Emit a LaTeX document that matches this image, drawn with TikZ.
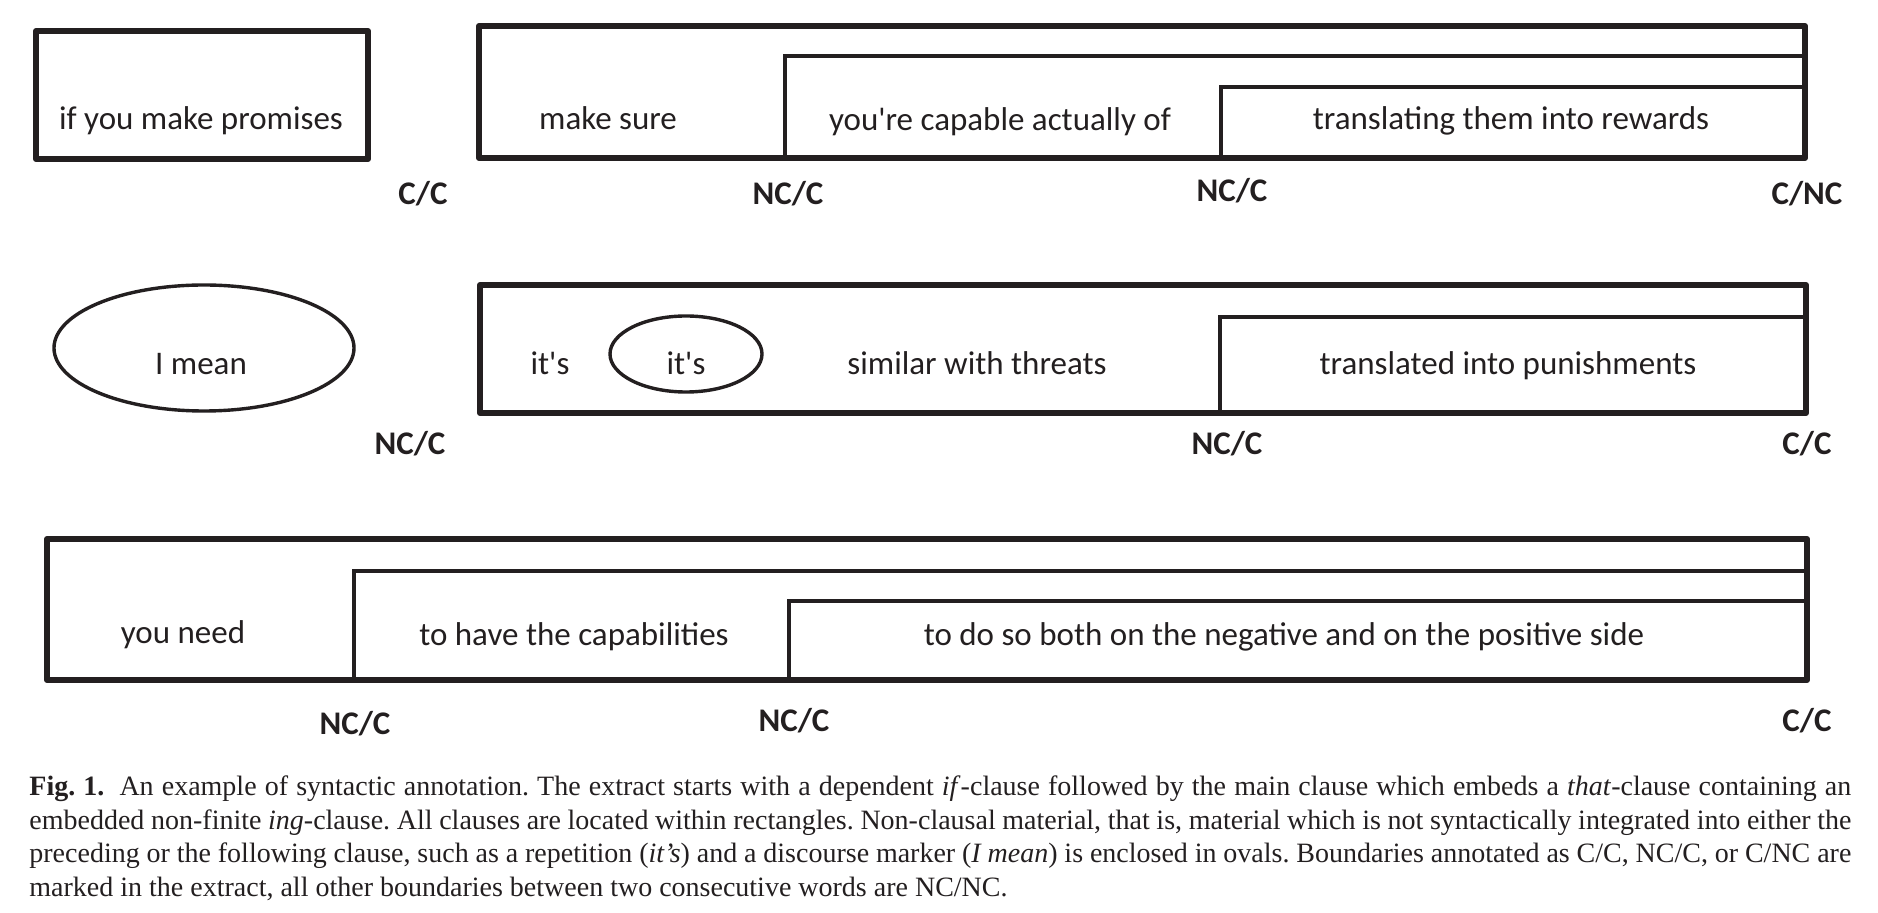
\documentclass[tikz,border=0pt]{standalone}
\usepackage{fontspec}
\setmainfont{Liberation Serif}
\newfontfamily\clausefont[Ligatures=TeXOff]{Carlito}
\usetikzlibrary{positioning}
\definecolor{ink}{HTML}{231F20}
\frenchspacing

\begin{document}
\begin{tikzpicture}[x=0.5pt, y=-0.5pt,
	outer/.style = {draw=ink, line width=3pt, line join=round},
	inner/.style = {draw=ink, line width=2pt},
	oval/.style  = {draw=ink, line width=1.7pt},
	words/.style = {font=\clausefont\fontsize{16.5}{20}\selectfont, text=ink, anchor=base, inner sep=0pt},
	bnd/.style   = {font=\clausefont\bfseries\fontsize{16.5}{20}\selectfont, text=ink, anchor=base, inner sep=0pt},
	capline/.style = {font=\fontsize{14}{17}\selectfont, text=ink, anchor=base west, inner sep=0pt}]
	
	\useasboundingbox (0,0) rectangle (1878,913);
	
	% first row: if-clause, then main clause with embedded clauses
	\draw[inner] (785,158) |- (1805,56);
	\draw[inner] (1221,158) |- (1805,87);
	\draw[outer] (36,31) rectangle (368,159);
	\draw[outer] (479,26) rectangle (1805,158);
	\node[words] (w11) at (201,130) {if you make promises};
	\node[words] (w12) at (608,130) {make sure};
	\node[words] (w13) at (1000,131) {you're capable actually of};
	\node[words] (w14) at (1511,130) {translating them into rewards};
	
	% second row: discourse marker and repetition in ovals
	\draw[oval] (204,348) ellipse [x radius=150, y radius=63];
	\draw[inner] (1220,413) |- (1806,317);
	\draw[outer] (480,285) rectangle (1806,413);
	\draw[oval] (686,354) ellipse [x radius=76, y radius=38];
	\node[words] (w21) at (201,375) {I mean};
	\node[words] (w22) at (550,375) {it's};
	\node[words] (w23) at (686,375) {it's};
	\node[words] (w24) at (977,375) {similar with threats};
	\node[words] (w25) at (1508,375) {translated into punishments};
	
	% third row
	\draw[inner] (354,680) |- (1807,571);
	\draw[inner] (789,680) |- (1807,601);
	\draw[outer] (47,539) rectangle (1807,680);
	\node[words] (w31) at (183,644) {you need};
	\node[words] (w32) at (574,646) {to have the capabilities};
	\node[words] (w33) at (1284,646) {to do so both on the negative and on the positive side};
	
	% boundary annotations
	\node[bnd] (b11) at (423,205) {C/C};
	\node[bnd] (b12) at (788,205) {NC/C};
	\node[bnd] (b13) at (1232,202) {NC/C};
	\node[bnd] (b14) at (1807,205) {C/NC};
	\node[bnd] (b21) at (410,455) {NC/C};
	\node[bnd] (b22) at (1227,455) {NC/C};
	\node[bnd] (b23) at (1807,455) {C/C};
	\node[bnd] (b31) at (355,734) {NC/C};
	\node[bnd] (b32) at (794,731) {NC/C};
	\node[bnd] (b33) at (1807,731) {C/C};
	
	% caption
	\node[capline] (cap1) at (29,795) {\makebox[911pt][s]{\textbf{Fig. 1.}\hspace{0.25em} An example of syntactic annotation. The extract starts with a dependent \textit{if}-clause followed by the main clause which embeds a \textit{that}-clause containing an}};
	\node[capline] (cap2) at (29,829) {\makebox[911pt][s]{embedded non-finite \textit{ing}-clause. All clauses are located within rectangles. Non-clausal material, that is, material which is not syntactically integrated into either the}};
	\node[capline] (cap3) at (29,862) {\makebox[911pt][s]{preceding or the following clause, such as a repetition (\textit{it's}) and a discourse marker (\textit{I mean}) is enclosed in ovals. Boundaries annotated as C/C, NC/C, or C/NC are}};
	\node[capline] (cap4) at (29,896) {marked in the extract, all other boundaries between two consecutive words are NC/NC.};
\end{tikzpicture}
\end{document}
